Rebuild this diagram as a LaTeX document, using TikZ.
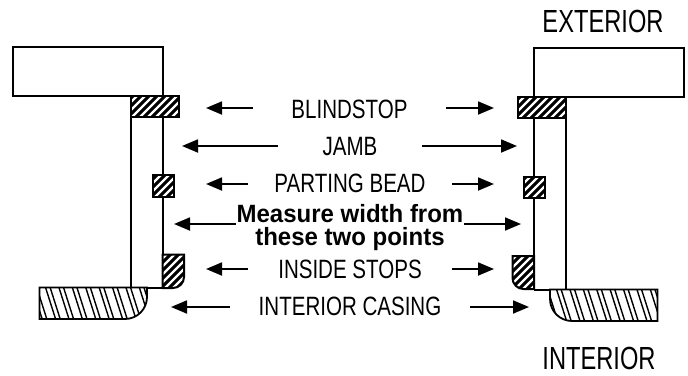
\documentclass[tikz,border=0pt]{standalone}
\usepackage{fontspec}
\setmainfont[FakeStretch=0.775]{Liberation Sans}
\newfontfamily\largefont[FakeStretch=0.74]{Liberation Sans}
\newfontfamily\measfont[FakeStretch=0.96]{Liberation Sans}
\usetikzlibrary{arrows.meta}
\newcommand{\whitestripes}[5]{% left, bottom, step, phase, count
  \foreach \i in {0,...,#5}{\draw[whiteline] ({#1+#4+\i*#3},{#2}) -- ++(60,-60);}}
\newcommand{\darkstripes}[2]{% left x, bottom-of-top y
  \foreach \i in {0,...,8}{
    \draw[darkline] ({#1+\i*13.4},{#2}) -- ++(10.5,33);
    \draw[darkline] ({#1+4.6+\i*13.4},{#2}) -- ++(10.5,33);}}
\tikzset{
  x=1pt,y=-1pt,
  frame/.style={draw=black,line width=2pt,line join=miter},
  thinframe/.style={draw=black,line width=2pt},
  whiteline/.style={draw=white,line width=2.4pt},
  darkline/.style={draw=black,line width=1.4pt},
  lab/.style={inner sep=0pt,anchor=base,font=\fontsize{26.5}{26.5}\selectfont},
  big/.style={inner sep=0pt,anchor=base,font=\largefont\fontsize{32}{32}\selectfont},
  conn/.style={draw=black,line width=1.8pt,-{Triangle[length=16pt,width=13pt]}},
}
\begin{document}
\begin{tikzpicture}
\useasboundingbox (0,0) rectangle (688,375);
% left window
\draw[frame] (130.5,95.5) -- (13,95.5) -- (13,47) -- (162.5,47) -- (162.5,95.5);
\draw[thinframe] (130.5,117) -- (130.5,288);
\draw[thinframe] (162.5,117) -- (162.5,288);
\draw[thinframe] (147,287.5) -- (162.5,287.5);
% left blindstop
\fill (130,95) rectangle (179,117);
\begin{scope}\clip (130,95) rectangle (179,117);\whitestripes{108}{117}{8}{0}{9}\end{scope}
\draw[frame] (130.5,95.5) rectangle (178.7,117);
% left parting bead
\fill (152,174) rectangle (174,197);
\begin{scope}\clip (152,174) rectangle (174,197);\whitestripes{130}{197}{8}{1}{7}\end{scope}
\draw[frame] (152.5,174.5) rectangle (173.5,196.5);
% left stop
\fill (162.5,254.5) -- (184,254.5) -- (184,277) arc[start angle=0,end angle=90,radius=11] -- (162.5,288) -- cycle;
\begin{scope}\clip (162.5,254.5) -- (184,254.5) -- (184,277) arc[start angle=0,end angle=90,radius=11] -- (162.5,288) -- cycle;
\whitestripes{125}{288}{8}{0}{10}\end{scope}
\draw[frame] (162.5,254.5) -- (184,254.5) -- (184,277) arc[start angle=0,end angle=90,radius=11] -- (162.5,288) -- cycle;
% left casing
\fill[white] (39.5,287.5) -- (147,287.5) -- (147,297) arc[start angle=0,end angle=90,radius=22] -- (39.5,319) -- cycle;
\begin{scope}\clip (39.5,287.5) -- (147,287.5) -- (147,297) arc[start angle=0,end angle=90,radius=22] -- (39.5,319) -- cycle;
\darkstripes{32}{287}\end{scope}
\draw[frame,line width=1.8pt] (39.5,287.5) -- (147,287.5) -- (147,297) arc[start angle=0,end angle=90,radius=22] -- (39.5,319) -- cycle;
% right window
\draw[frame] (534,96.5) -- (534,48) -- (683.5,48) -- (683.5,96.5) -- (566,96.5);
\draw[thinframe] (534,118) -- (534,289.5);
\draw[thinframe] (566,118) -- (566,289.5);
\draw[thinframe] (534,289.5) -- (550,289.5);
% right blindstop
\fill (517,96) rectangle (566,118);
\begin{scope}\clip (517,96) rectangle (566,118);\whitestripes{495}{118}{8}{0}{9}\end{scope}
\draw[frame] (517.5,96.5) rectangle (566,118);
% right parting bead
\fill (523,176) rectangle (545,198);
\begin{scope}\clip (523,176) rectangle (545,198);\whitestripes{500}{198}{8}{1}{7}\end{scope}
\draw[frame] (523.5,176.5) rectangle (545,198);
% right stop
\fill (534,256) -- (512.5,256) -- (512.5,278) arc[start angle=180,end angle=90,radius=11] -- (534,289) -- cycle;
\begin{scope}\clip (534,256) -- (512.5,256) -- (512.5,278) arc[start angle=180,end angle=90,radius=11] -- (534,289) -- cycle;
\whitestripes{475}{289}{8}{0}{10}\end{scope}
\draw[frame] (534,256) -- (512.5,256) -- (512.5,278) arc[start angle=180,end angle=90,radius=11] -- (534,289) -- cycle;
% right casing
\fill[white] (657.5,289.5) -- (550,289.5) -- (550,299) arc[start angle=180,end angle=90,radius=22] -- (657.5,321) -- cycle;
\begin{scope}\clip (657.5,289.5) -- (550,289.5) -- (550,299) arc[start angle=180,end angle=90,radius=22] -- (657.5,321) -- cycle;
\darkstripes{543}{289}\end{scope}
\draw[frame,line width=1.8pt] (657.5,289.5) -- (550,289.5) -- (550,299) arc[start angle=180,end angle=90,radius=22] -- (657.5,321) -- cycle;
% labels
\node[big] (ext) at (603,32) {EXTERIOR};
\node[big] (int) at (599,369.5) {INTERIOR};
\node[lab,minimum width=193pt] (blind) at (349.5,118) {BLINDSTOP};
\node[lab,minimum width=144pt] (jamb) at (350,155) {JAMB};
\node[lab,minimum width=204pt] (bead) at (350,192) {PARTING BEAD};
\node[lab,minimum width=204pt] (stops) at (350,278) {INSIDE STOPS};
\node[lab,minimum width=240pt] (casing) at (350,315) {INTERIOR CASING};
\node[inner sep=0pt,align=center,minimum width=228pt,font=\measfont\bfseries\fontsize{25}{23}\selectfont] (meas) at (350,227.5) {Measure width from\\these two points};
% arrow ends
\coordinate (blindL) at (206,108); \coordinate (blindR) at (494,108);
\coordinate (jambL) at (182,146); \coordinate (jambR) at (517,146);
\coordinate (beadL) at (206,184); \coordinate (beadR) at (494,184);
\coordinate (measL) at (174,224); \coordinate (measR) at (521,224);
\coordinate (stopsL) at (206,269); \coordinate (stopsR) at (494,269);
\coordinate (casingL) at (171,307); \coordinate (casingR) at (529,307);
% connectors
\foreach \n in {blind,jamb,bead,meas,stops,casing}{
  \draw[conn] (\n.west |- \n L) -- (\n L);
  \draw[conn] (\n.east |- \n R) -- (\n R);
}
\end{tikzpicture}
\end{document}
